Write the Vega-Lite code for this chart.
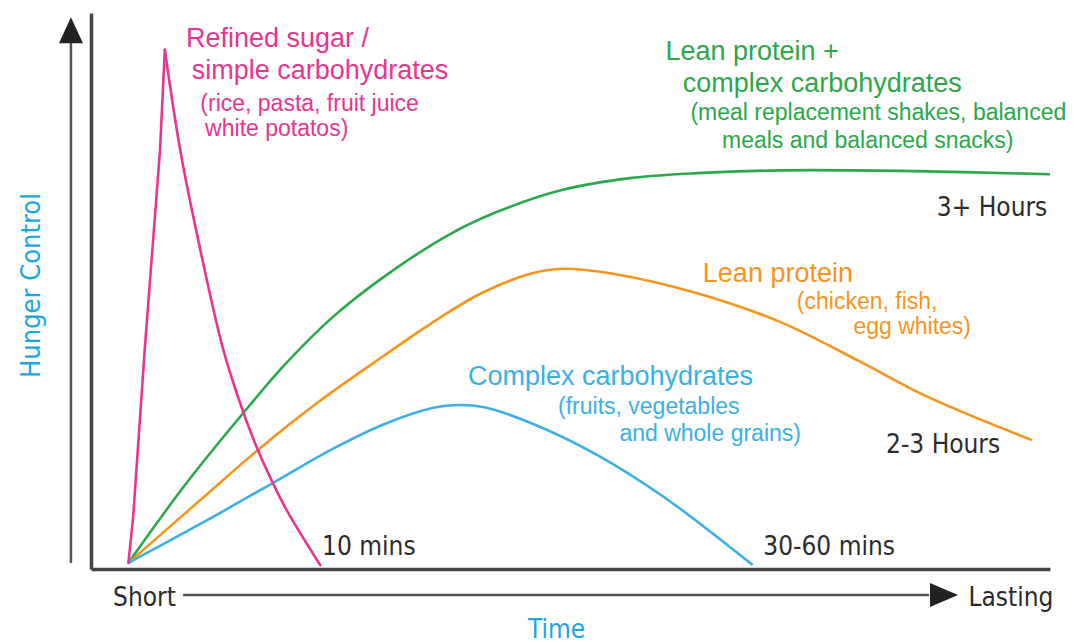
{
  "$schema": "https://vega.github.io/schema/vega-lite/v6.json",
  "width": 959,
  "height": 556,
  "autosize": "none",
  "padding": {"left": 91, "top": 13, "right": 26, "bottom": 74},
  "background": "white",
  "config": {"view": {"stroke": null}},
  "datasets": {
    "curves": [
      {"food": "Refined sugar", "time": 3.9, "hunger": 1.1},
      {"food": "Refined sugar", "time": 4.4, "hunger": 9.4},
      {"food": "Refined sugar", "time": 5.6, "hunger": 39.4},
      {"food": "Refined sugar", "time": 7.2, "hunger": 75.4},
      {"food": "Refined sugar", "time": 7.7, "hunger": 93.4},
      {"food": "Refined sugar", "time": 9.3, "hunger": 75.4},
      {"food": "Refined sugar", "time": 11.4, "hunger": 57.4},
      {"food": "Refined sugar", "time": 13.8, "hunger": 39.4},
      {"food": "Refined sugar", "time": 15.9, "hunger": 28.1},
      {"food": "Refined sugar", "time": 17.4, "hunger": 21.4},
      {"food": "Refined sugar", "time": 18.9, "hunger": 15.7},
      {"food": "Refined sugar", "time": 20.4, "hunger": 10.6},
      {"food": "Refined sugar", "time": 23.9, "hunger": 0.7},
      {"food": "Lean protein + complex carbs", "time": 3.9, "hunger": 1.1},
      {"food": "Lean protein + complex carbs", "time": 9.8, "hunger": 15.1},
      {"food": "Lean protein + complex carbs", "time": 15.9, "hunger": 28.1},
      {"food": "Lean protein + complex carbs", "time": 20.4, "hunger": 37.1},
      {"food": "Lean protein + complex carbs", "time": 25.2, "hunger": 45.3},
      {"food": "Lean protein + complex carbs", "time": 30.5, "hunger": 52.5},
      {"food": "Lean protein + complex carbs", "time": 37.4, "hunger": 60.2},
      {"food": "Lean protein + complex carbs", "time": 42.3, "hunger": 64.2},
      {"food": "Lean protein + complex carbs", "time": 49.2, "hunger": 68.2},
      {"food": "Lean protein + complex carbs", "time": 56.2, "hunger": 70.3},
      {"food": "Lean protein + complex carbs", "time": 63.2, "hunger": 71.2},
      {"food": "Lean protein + complex carbs", "time": 71.9, "hunger": 71.7},
      {"food": "Lean protein + complex carbs", "time": 84.4, "hunger": 71.6},
      {"food": "Lean protein + complex carbs", "time": 100, "hunger": 71.0},
      {"food": "Lean protein", "time": 3.9, "hunger": 1.1},
      {"food": "Lean protein", "time": 11.4, "hunger": 12.4},
      {"food": "Lean protein", "time": 17.4, "hunger": 21.4},
      {"food": "Lean protein", "time": 23.6, "hunger": 29.9},
      {"food": "Lean protein", "time": 30.5, "hunger": 38.3},
      {"food": "Lean protein", "time": 35.4, "hunger": 44.1},
      {"food": "Lean protein", "time": 40.6, "hunger": 49.5},
      {"food": "Lean protein", "time": 45.8, "hunger": 53.1},
      {"food": "Lean protein", "time": 49.2, "hunger": 54.0},
      {"food": "Lean protein", "time": 54.4, "hunger": 53.1},
      {"food": "Lean protein", "time": 63.2, "hunger": 49.6},
      {"food": "Lean protein", "time": 71.9, "hunger": 44.4},
      {"food": "Lean protein", "time": 80.2, "hunger": 37.3},
      {"food": "Lean protein", "time": 87.2, "hunger": 31.0},
      {"food": "Lean protein", "time": 98.1, "hunger": 23.2},
      {"food": "Complex carbs", "time": 3.9, "hunger": 1.1},
      {"food": "Complex carbs", "time": 11.4, "hunger": 8.1},
      {"food": "Complex carbs", "time": 18.9, "hunger": 15.4},
      {"food": "Complex carbs", "time": 25.2, "hunger": 21.6},
      {"food": "Complex carbs", "time": 30.5, "hunger": 26.0},
      {"food": "Complex carbs", "time": 35.7, "hunger": 29.0},
      {"food": "Complex carbs", "time": 38.3, "hunger": 29.5},
      {"food": "Complex carbs", "time": 41.0, "hunger": 29.1},
      {"food": "Complex carbs", "time": 45.8, "hunger": 26.3},
      {"food": "Complex carbs", "time": 52.8, "hunger": 20.5},
      {"food": "Complex carbs", "time": 59.7, "hunger": 13.0},
      {"food": "Complex carbs", "time": 69.0, "hunger": 0.7}
    ],
    "labels": [
      {"food": "Refined sugar", "kind": "title", "time": 9.9, "hunger": 93.9, "line": "Refined sugar /"},
      {"food": "Refined sugar", "kind": "title", "time": 10.5, "hunger": 88.1, "line": "simple carbohydrates"},
      {"food": "Refined sugar", "kind": "detail", "time": 11.4, "hunger": 82.4, "line": "(rice, pasta, fruit juice"},
      {"food": "Refined sugar", "kind": "detail", "time": 11.9, "hunger": 77.9, "line": "white potatos)"},
      {"food": "Lean protein + complex carbs", "kind": "title", "time": 59.9, "hunger": 91.6, "line": "Lean protein +"},
      {"food": "Lean protein + complex carbs", "kind": "title", "time": 61.7, "hunger": 85.8, "line": "complex carbohydrates"},
      {"food": "Lean protein + complex carbs", "kind": "detail", "time": 62.5, "hunger": 80.8, "line": "(meal replacement shakes, balanced"},
      {"food": "Lean protein + complex carbs", "kind": "detail", "time": 65.8, "hunger": 75.7, "line": "meals and balanced snacks)"},
      {"food": "Lean protein", "kind": "title", "time": 63.8, "hunger": 51.6, "line": "Lean protein"},
      {"food": "Lean protein", "kind": "detail", "time": 73.6, "hunger": 46.8, "line": "(chicken, fish,"},
      {"food": "Lean protein", "kind": "detail", "time": 79.5, "hunger": 42.3, "line": "egg whites)"},
      {"food": "Complex carbs", "kind": "title", "time": 39.3, "hunger": 33.1, "line": "Complex carbohydrates"},
      {"food": "Complex carbs", "kind": "detail", "time": 48.7, "hunger": 27.9, "line": "(fruits, vegetables"},
      {"food": "Complex carbs", "kind": "detail", "time": 55.1, "hunger": 23.0, "line": "and whole grains)"}
    ],
    "notes": [
      {"time": 24.1, "hunger": 2.5, "note": "10 mins"},
      {"time": 70.1, "hunger": 2.5, "note": "30-60 mins"},
      {"time": 88.2, "hunger": 63.5, "note": "3+ Hours"},
      {"time": 82.9, "hunger": 20.9, "note": "2-3 Hours"},
      {"time": 2.3, "hunger": -6.6, "note": "Short"},
      {"time": 91.5, "hunger": -6.6, "note": "Lasting"}
    ],
    "arrowShafts": [
      {"time": -2.09, "hunger": 1.1, "time_end": -2.09, "hunger_end": 94.6},
      {"time": 9.6, "hunger": -4.68, "time_end": 87.4, "hunger_end": -4.68}
    ],
    "arrowUp": [{"time": -2.09, "hunger": 96.9}],
    "arrowRight": [{"time": 88.95, "hunger": -4.68}]
  },
  "encoding": {
    "x": {
      "field": "time", "type": "quantitative",
      "scale": {"domain": [0, 100], "nice": false, "zero": false},
      "axis": {
        "title": "Time", "ticks": false, "labels": false, "grid": false,
        "domainColor": "#444444", "domainWidth": 3.5,
        "titleColor": "#1ea5e0", "titleFont": "DejaVu Sans Condensed, sans-serif",
        "titleFontSize": 26, "titleFontWeight": "normal",
        "titleX": 465, "titleY": 60, "titleAlign": "center", "titleBaseline": "middle"
      }
    },
    "y": {
      "field": "hunger", "type": "quantitative",
      "scale": {"domain": [0, 100], "nice": false, "zero": false},
      "axis": {
        "title": "Hunger Control", "ticks": false, "labels": false, "grid": false,
        "domainColor": "#444444", "domainWidth": 3.5,
        "titleColor": "#1ea5e0", "titleFont": "DejaVu Sans Condensed, sans-serif",
        "titleFontSize": 27, "titleFontWeight": "normal", "titleAngle": -90,
        "titleX": -60, "titleY": 272, "titleAlign": "center", "titleBaseline": "middle"
      }
    }
  },
  "layer": [
    {
      "data": {"name": "curves"},
      "transform": [{"filter": "datum.food !== 'Refined sugar'"}],
      "mark": {"type": "line", "interpolate": "catmull-rom", "strokeWidth": 2.6},
      "encoding": {
        "color": {
          "field": "food", "type": "nominal", "legend": null,
          "scale": {
            "domain": ["Refined sugar", "Lean protein + complex carbs", "Lean protein", "Complex carbs"],
            "range": ["#e8358f", "#2aa84a", "#f7941d", "#3bb0e3"]
          }
        }
      }
    },
    {
      "data": {"name": "curves"},
      "transform": [{"filter": "datum.food === 'Refined sugar' && datum.time <= 7.7"}],
      "mark": {"type": "line", "interpolate": "linear", "strokeWidth": 2.6, "strokeCap": "round"},
      "encoding": {"color": {"field": "food", "type": "nominal", "legend": null}}
    },
    {
      "data": {"name": "curves"},
      "transform": [{"filter": "datum.food === 'Refined sugar' && datum.time >= 7.7"}],
      "mark": {"type": "line", "interpolate": "catmull-rom", "strokeWidth": 2.6, "strokeCap": "round"},
      "encoding": {"color": {"field": "food", "type": "nominal", "legend": null}}
    },
    {
      "data": {"name": "arrowShafts"},
      "mark": {"type": "rule", "color": "#555555", "strokeWidth": 2.5},
      "encoding": {"x2": {"field": "time_end"}, "y2": {"field": "hunger_end"}}
    },
    {
      "data": {"name": "arrowUp"},
      "mark": {"type": "point", "shape": "M0,-1L0.923,1L-0.923,1Z", "filled": true, "size": 676, "color": "#222222", "opacity": 1, "strokeWidth": 0}
    },
    {
      "data": {"name": "arrowRight"},
      "mark": {"type": "point", "shape": "M1,0L-1,-0.857L-1,0.857Z", "filled": true, "size": 784, "color": "#222222", "opacity": 1, "strokeWidth": 0}
    },
    {
      "data": {"name": "labels"},
      "mark": {"type": "text", "align": "left", "baseline": "alphabetic", "font": "Liberation Sans, Arial, sans-serif"},
      "encoding": {
        "text": {"field": "line"},
        "color": {"field": "food", "type": "nominal", "legend": null},
        "size": {"field": "kind", "type": "nominal", "legend": null, "scale": {"domain": ["title", "detail"], "range": [27, 23]}}
      }
    },
    {
      "data": {"name": "notes"},
      "mark": {"type": "text", "align": "left", "baseline": "alphabetic", "font": "DejaVu Sans Condensed, sans-serif", "fontSize": 26, "color": "#2b2b2b"},
      "encoding": {"text": {"field": "note"}}
    }
  ]
}
